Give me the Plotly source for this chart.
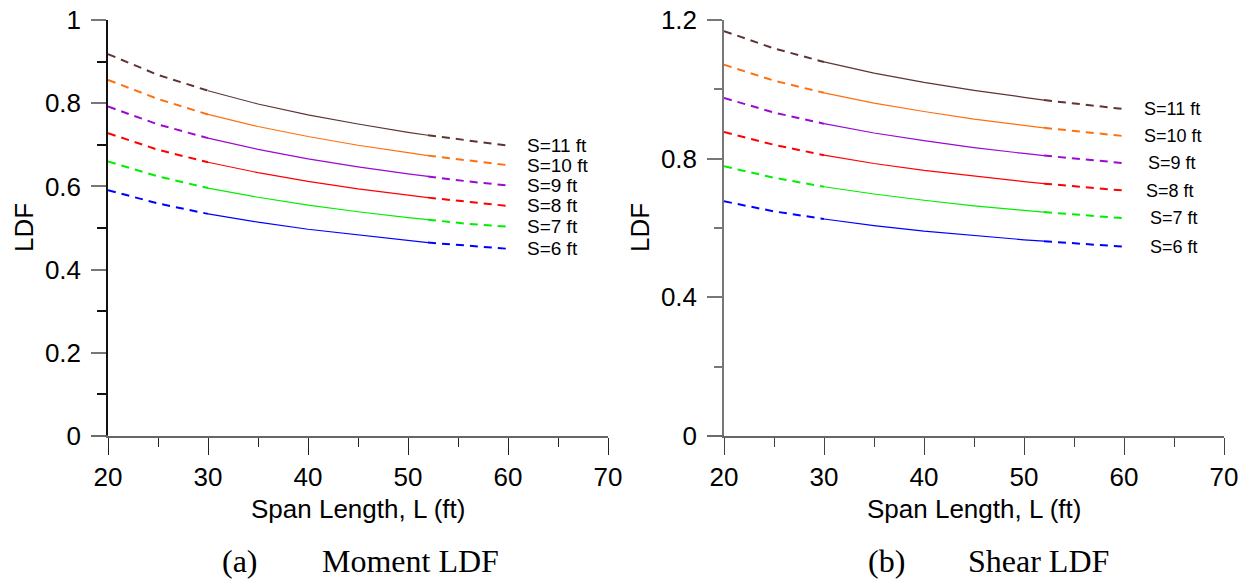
import plotly.graph_objects as go

# ---------------- data ----------------
span_L = [20, 25, 30, 35, 40, 45, 50, 52, 56, 60]
spacings = ["S=11 ft", "S=10 ft", "S=9 ft", "S=8 ft", "S=7 ft", "S=6 ft"]
colors = ["#5e3434", "#ff6f0f", "#9a0ad0", "#ff0000", "#00ee00", "#0000ff"]

moment_s11 = [0.918, 0.868, 0.830, 0.798, 0.772, 0.750, 0.730, 0.723, 0.710, 0.698]
moment_s10 = [0.856, 0.810, 0.773, 0.744, 0.720, 0.699, 0.681, 0.674, 0.662, 0.651]
moment_s9 = [0.792, 0.749, 0.716, 0.689, 0.666, 0.647, 0.630, 0.624, 0.612, 0.602]
moment_s8 = [0.728, 0.688, 0.658, 0.633, 0.612, 0.594, 0.579, 0.573, 0.563, 0.553]
moment_s7 = [0.660, 0.624, 0.596, 0.574, 0.555, 0.539, 0.525, 0.520, 0.510, 0.503]
moment_s6 = [0.591, 0.559, 0.534, 0.514, 0.497, 0.483, 0.470, 0.465, 0.457, 0.450]

shear_s11 = [1.168, 1.118, 1.079, 1.047, 1.020, 0.997, 0.977, 0.969, 0.956, 0.943]
shear_s10 = [1.071, 1.025, 0.990, 0.960, 0.936, 0.914, 0.896, 0.889, 0.876, 0.865]
shear_s9 = [0.975, 0.933, 0.901, 0.874, 0.852, 0.832, 0.815, 0.809, 0.798, 0.787]
shear_s8 = [0.877, 0.840, 0.810, 0.786, 0.766, 0.749, 0.734, 0.728, 0.717, 0.708]
shear_s7 = [0.778, 0.745, 0.719, 0.698, 0.680, 0.664, 0.651, 0.646, 0.636, 0.628]
shear_s6 = [0.677, 0.648, 0.626, 0.607, 0.591, 0.578, 0.566, 0.562, 0.554, 0.546]

moment_series = [moment_s11, moment_s10, moment_s9, moment_s8, moment_s7, moment_s6]
shear_series = [shear_s11, shear_s10, shear_s9, shear_s8, shear_s7, shear_s6]

x_ticks = [20, 30, 40, 50, 60, 70]
moment_yticks = [0, 0.2, 0.4, 0.6, 0.8, 1]
shear_yticks = [0, 0.4, 0.8, 1.2]

# ---------------- figure ----------------
W, H = 1252, 583


def px(x):
    return x / W


def py(y):
    return 1 - y / H


fig = go.Figure()

SANS = "Liberation Sans, Arial, sans-serif"
SERIF = "Liberation Serif, Times New Roman, serif"

# segment split indices: dashed [20..30], solid [30..52], dashed [52..60]
segments = [(0, 3, "8px,6px", 2.0), (2, 8, "solid", 1.2), (7, 10, "8px,6px", 2.0)]


def add_curves(series, xa, ya):
    for vals, col in zip(series, colors):
        for a, b, dash, w in segments:
            fig.add_trace(go.Scatter(
                x=span_L[a:b], y=vals[a:b], mode="lines",
                line=dict(color=col, width=w, dash=dash),
                xaxis=xa, yaxis=ya, showlegend=False, hoverinfo="skip"))


add_curves(moment_series, "x", "y")
add_curves(shear_series, "x2", "y2")

y_top = py(20)
y_bot = py(436)
dom1 = [px(108), px(608)]
dom2 = [px(724), px(1224)]

common_x = dict(range=[20, 70], tickvals=x_ticks, ticks="outside", ticklen=17,
                tickwidth=1, showline=True, linewidth=1.5, showgrid=False, zeroline=False,
                automargin=False, ticklabeloverflow="allow",
                tickfont=dict(family=SANS, size=26, color="black"),
                minor=dict(ticks="outside", ticklen=9, dtick=5, tick0=20, showgrid=False),
                ticklabelstandoff=0)
common_y = dict(ticks="outside", ticklen=15, tickwidth=1.5, showline=True, linewidth=1.5,
                showgrid=False, zeroline=False, automargin=False, ticklabeloverflow="allow",
                tickfont=dict(family=SANS, size=26, color="black"),
                ticklabelstandoff=5)

fig.update_layout(
    template="none",
    width=W, height=H,
    margin=dict(l=0, r=0, t=0, b=0, autoexpand=False),
    paper_bgcolor="white", plot_bgcolor="white",
    xaxis=dict(domain=dom1, anchor="y", linecolor="#666666", tickcolor="#222222",
               minor_tickcolor="#222222", **common_x),
    yaxis=dict(domain=[y_bot, y_top], anchor="x", range=[0, 1], tickvals=moment_yticks,
               ticktext=["0", "0.2", "0.4", "0.6", "0.8", "1"],
               linecolor="#111111", tickcolor="#777777",
               minor=dict(ticks="outside", ticklen=9, dtick=0.1, tick0=0,
                          tickcolor="#111111", showgrid=False),
               **common_y),
    xaxis2=dict(domain=dom2, anchor="y2", linecolor="#666666", tickcolor="#444444",
                minor_tickcolor="#444444", **common_x),
    yaxis2=dict(domain=[y_bot, y_top], anchor="x2", range=[0, 1.2], tickvals=shear_yticks,
                ticktext=["0", "0.4", "0.8", "1.2"],
                linecolor="#777777", tickcolor="#777777",
                minor=dict(ticks="outside", ticklen=8, dtick=0.2, tick0=0,
                           tickcolor="#777777", showgrid=False),
                **common_y),
)

ann = []
# series labels
for name, vals in zip(spacings, moment_series):
    ann.append(dict(x=61.7, y=vals[-1], xref="x", yref="y", text=name, showarrow=False,
                    xanchor="left", yanchor="middle",
                    font=dict(family=SANS, size=19, color="black")))
shear_label_x = [61.8, 61.8, 62.2, 62.0, 62.4, 62.4]
for name, vals, lx in zip(spacings, shear_series, shear_label_x):
    ann.append(dict(x=lx, y=vals[-1], xref="x2", yref="y2", text=name, showarrow=False,
                    xanchor="left", yanchor="middle",
                    font=dict(family=SANS, size=18, color="black")))

# axis titles
for cx, lab in [(358, "Span Length, L (ft)"), (974, "Span Length, L (ft)")]:
    ann.append(dict(x=px(cx), y=py(509), xref="paper", yref="paper", text=lab,
                    showarrow=False, xanchor="center", yanchor="middle",
                    font=dict(family=SANS, size=26, color="black")))
for cx in [24, 640]:
    ann.append(dict(x=px(cx), y=py(228), xref="paper", yref="paper", text="LDF",
                    textangle=-90, showarrow=False, xanchor="center", yanchor="middle",
                    font=dict(family=SANS, size=26, color="black")))

# captions
cap_y = py(561)
cap_font = dict(family=SERIF, size=32, color="black")
ann.append(dict(x=px(240), y=cap_y, xref="paper", yref="paper", text="(a)", showarrow=False,
                xanchor="center", yanchor="middle", font=cap_font))
ann.append(dict(x=px(320), y=cap_y, xref="paper", yref="paper", text="Moment LDF", showarrow=False,
                xanchor="left", yanchor="middle", font=cap_font))
ann.append(dict(x=px(886), y=cap_y, xref="paper", yref="paper", text="(b)", showarrow=False,
                xanchor="center", yanchor="middle", font=cap_font))
ann.append(dict(x=px(966), y=cap_y, xref="paper", yref="paper", text="Shear LDF", showarrow=False,
                xanchor="left", yanchor="middle", font=cap_font))

fig.update_layout(annotations=ann)

# x-axis line extension to the left of the y axis (as in the original)
fig.add_shape(type="line", xref="paper", yref="paper", x0=px(91), x1=px(108),
              y0=y_bot, y1=y_bot, line=dict(color="#666666", width=1.5))
fig.add_shape(type="line", xref="paper", yref="paper", x0=px(707), x1=px(724),
              y0=y_bot, y1=y_bot, line=dict(color="#666666", width=1.5))

# remove the default 8px page margin so the figure fills the 1252x583 window exactly
fig.write_html("out.html",
               config={"displayModeBar": False},
               post_script="document.body.style.margin='0';document.body.style.overflow='hidden';")
